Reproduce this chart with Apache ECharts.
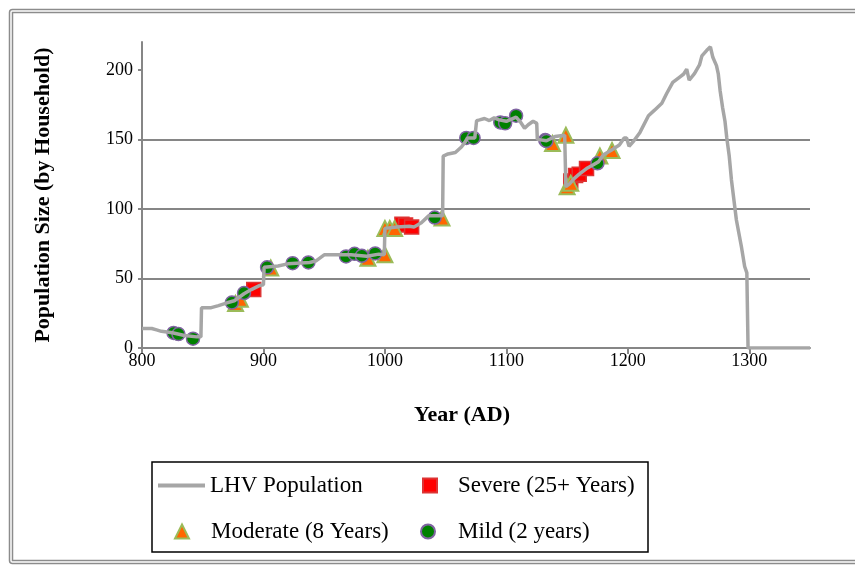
<!DOCTYPE html>
<html>
<head>
<meta charset="utf-8">
<script src="https://cdn.jsdelivr.net/npm/echarts@6/dist/echarts.min.js"></script>
<style>
  html, body { margin: 0; padding: 0; background: #fff; }
  #my-chart { width: 855px; height: 566px; }
</style>
</head>
<body>
<div id="my-chart"></div>
<script>
// LHV population line, [year, households]
const population = [
  [800, 14], [808, 14], [812, 13], [816, 12], [825, 11], [835, 9], [845, 8], [848.5, 8],
  [849, 29], [857, 29], [863, 30.5], [870, 32.5], [876, 34], [884, 39], [890, 42], [897, 45], [900, 45.5],
  [900.5, 58], [912, 59], [920, 60.5], [938, 61.5], [943, 62.5], [950, 67], [965, 67], [972, 67],
  [985, 66], [995, 67.5], [999.5, 67], [1000, 86], [1010, 87], [1020, 87.5], [1024, 87], [1030, 90],
  [1036, 95], [1047.5, 95], [1048, 138], [1052, 139.5], [1058, 140.5], [1063, 144.5], [1066, 148],
  [1068, 151], [1074, 151], [1075.5, 163.5], [1078, 164], [1082, 165], [1086, 163.5], [1090, 165.5],
  [1094, 164], [1100, 163], [1108, 166], [1112, 162], [1115, 158], [1118, 160.5], [1122, 163],
  [1125, 161.5], [1125.5, 150], [1133, 149], [1140, 152], [1148, 153], [1149, 116], [1152, 118],
  [1156, 122], [1160, 125], [1166, 129], [1172, 132], [1176, 134], [1180, 139], [1186, 142],
  [1193, 146], [1197, 151], [1199, 151], [1201, 145], [1205, 149], [1210, 155], [1217, 167],
  [1222, 171], [1225, 173.5], [1228, 176], [1232, 183], [1237, 191], [1243, 195], [1246, 197],
  [1248.5, 200.5], [1250.5, 192.5], [1255, 197.5], [1259, 203.5], [1261, 210], [1265, 214],
  [1268, 216.5], [1270, 209], [1273, 203], [1274.5, 197], [1276, 185], [1278, 173], [1280, 163],
  [1281.5, 151], [1283.5, 138], [1285.3, 121], [1289.4, 92], [1293.5, 73], [1296.2, 58.6],
  [1298, 54], [1299, 0], [1350, 0]
];
const severe = [
  [892, 42], [1014, 89], [1017, 88.5], [1022, 87], [1153, 120], [1157, 124], [1160, 125], [1166, 129]
];
const moderate = [
  [877, 32], [881, 35], [906, 57.5], [986, 64.5], [1000, 67], [1000, 86], [1004, 86], [1008, 86],
  [1047, 93.5], [1138, 147], [1149, 153], [1150, 116], [1153, 118.5], [1177, 138], [1187, 142]
];
const mild = [
  [826, 10.8], [830, 10], [842, 6.7], [874, 32.7], [884, 39.5], [903, 58], [924, 61], [937, 61.5],
  [968, 65.8], [975, 67.7], [981, 66.3], [992, 68], [1041, 93.8], [1067, 151], [1073, 151],
  [1095, 162.2], [1099, 161.5], [1108, 167], [1132, 149.5], [1133, 148.8], [1175, 132.8]
];
const xTicks = [800, 900, 1000, 1100, 1200, 1300];
const yTicks = [0, 50, 100, 150, 200];
const seriesNames = ['LHV Population', 'Severe (25+ Years)', 'Moderate (8 Years)', 'Mild (2 years)'];

function initEcharts() {
  const myChart = echarts.init(document.getElementById('my-chart'));
  const serif = 'Liberation Serif';
  const legendText = { fontFamily: serif, fontSize: 23, color: '#000' };

  const option = {
    backgroundColor: '#fff',
    animation: false,
    grid: { left: 142, right: 45, top: 42, bottom: 218 },
    graphic: [
      // double frame round the chart
      { type: 'rect', shape: { x: 9.5, y: 9.5, width: 900, height: 554, r: 3 }, style: { fill: 'none', stroke: '#8c8c8c', lineWidth: 1.5 } },
      { type: 'rect', shape: { x: 12.5, y: 12.5, width: 900, height: 548 }, style: { fill: 'none', stroke: '#8c8c8c', lineWidth: 1.5 } },
      // legend box
      { type: 'rect', shape: { x: 152, y: 462, width: 496, height: 90 }, style: { fill: 'none', stroke: '#000', lineWidth: 1.5 } }
    ],
    legend: [
      { data: [{ name: seriesNames[0], icon: 'rect' }], left: 158, top: 474, padding: 0, itemWidth: 47, itemHeight: 4, textStyle: legendText },
      { data: [seriesNames[1]], left: 422, top: 474, padding: 0, itemWidth: 14, itemHeight: 14, textStyle: Object.assign({ padding: [0, 0, 0, 16] }, legendText) },
      { data: [seriesNames[2]], left: 174, top: 520, padding: 0, itemWidth: 14, itemHeight: 14, textStyle: Object.assign({ padding: [0, 0, 0, 17] }, legendText) },
      { data: [seriesNames[3]], left: 420, top: 520, padding: 0, itemWidth: 14, itemHeight: 14, textStyle: Object.assign({ padding: [0, 0, 0, 18] }, legendText) }
    ],
    xAxis: {
      type: 'value',
      min: 800,
      max: 1350,
      interval: 100,
      name: 'Year (AD)',
      nameLocation: 'middle',
      nameGap: 56,
      nameTextStyle: { fontFamily: serif, fontSize: 22, fontWeight: 'bold', color: '#000', padding: [0, 28, 0, 0] },
      axisLine: { lineStyle: { color: '#868686', width: 2 } },
      axisTick: { show: true, length: 6, customValues: xTicks, lineStyle: { color: '#868686', width: 2 } },
      axisLabel: {
        customValues: xTicks, margin: 4, fontFamily: serif, fontSize: 18, color: '#000',
        formatter: function (v) { return String(v); }
      },
      splitLine: { show: false }
    },
    yAxis: {
      type: 'value',
      min: 0,
      max: 220,
      interval: 50,
      name: 'Population Size (by Household)',
      nameLocation: 'middle',
      nameGap: 88,
      nameTextStyle: { fontFamily: serif, fontSize: 22, fontWeight: 'bold', color: '#000' },
      axisLine: { show: true, lineStyle: { color: '#868686', width: 2 } },
      axisTick: { show: true, length: 4, inside: false, customValues: yTicks, lineStyle: { color: '#868686', width: 2 } },
      axisLabel: { customValues: yTicks, margin: 9, fontFamily: serif, fontSize: 18, color: '#000' },
      splitLine: { show: true, showMaxLine: false, lineStyle: { color: '#868686', width: 2 } }
    },
    series: [
      {
        name: seriesNames[0],
        type: 'line',
        data: population,
        showSymbol: false,
        symbol: 'none',
        lineStyle: { color: '#a6a6a6', width: 3.5 },
        itemStyle: { color: '#a6a6a6' }
      },
      {
        name: seriesNames[1],
        type: 'scatter',
        data: severe,
        symbol: 'rect',
        symbolSize: 14,
        itemStyle: { color: '#ff0000', borderColor: '#dd3434', borderWidth: 1.5, opacity: 1 }
      },
      {
        name: seriesNames[2],
        type: 'scatter',
        data: moderate,
        symbol: 'triangle',
        symbolSize: 15,
        itemStyle: { color: '#ff6600', borderColor: '#9bbb59', borderWidth: 2, opacity: 1 }
      },
      {
        name: seriesNames[3],
        type: 'scatter',
        data: mild,
        symbol: 'circle',
        symbolSize: 13,
        itemStyle: { color: '#008000', borderColor: '#8064a2', borderWidth: 1.5, opacity: 1 }
      }
    ]
  };
  myChart.setOption(option);
}

initEcharts();
</script>
</body>
</html>
